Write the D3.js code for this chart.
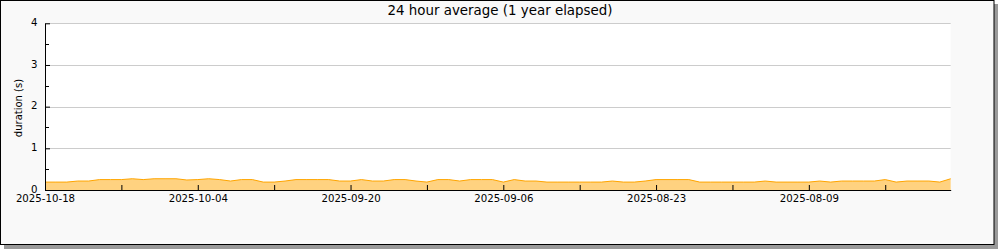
<!DOCTYPE html>
<html>
<head>
    <meta charset="UTF-8">
    <title>24 hour average</title>
    <script src="https://d3js.org/d3.v7.min.js"></script>
    <style>
        body { margin: 0; background: #fff; }
        text { font-family: "DejaVu Sans", sans-serif; fill: #000; }
    </style>
</head>
<body>
<svg width="1000" height="250"></svg>
<script>
    // newest day first, one value per day (seconds)
    var startDay = "2025-10-18";
    var endDay = "2025-07-27";
    var values = [0.19, 0.19, 0.19, 0.215, 0.215, 0.25, 0.25, 0.25, 0.27, 0.25,
        0.27, 0.27, 0.27, 0.24, 0.25, 0.27, 0.25, 0.215, 0.25, 0.25,
        0.19, 0.19, 0.215, 0.25, 0.25, 0.25, 0.25, 0.215, 0.215, 0.25,
        0.215, 0.215, 0.25, 0.25, 0.215, 0.19, 0.25, 0.25, 0.215, 0.25,
        0.25, 0.25, 0.19, 0.25, 0.215, 0.215, 0.19, 0.19, 0.19, 0.19,
        0.19, 0.19, 0.215, 0.19, 0.19, 0.215, 0.25, 0.25, 0.25, 0.25,
        0.19, 0.19, 0.19, 0.19, 0.19, 0.19, 0.215, 0.19, 0.19, 0.19,
        0.19, 0.215, 0.19, 0.215, 0.215, 0.215, 0.215, 0.25, 0.19, 0.215,
        0.215, 0.215, 0.19, 0.27];
    var tickDates = ["2025-10-18", "2025-10-11", "2025-10-04", "2025-09-27", "2025-09-20",
        "2025-09-13", "2025-09-06", "2025-08-30", "2025-08-23", "2025-08-16",
        "2025-08-09", "2025-08-02"];
    var labelDates = ["2025-10-18", "2025-10-04", "2025-09-20", "2025-09-06", "2025-08-23", "2025-08-09"];
    var yTicks = [0, 1, 2, 3, 4];
    var yMinor = [0.5, 1.5, 2.5, 3.5];
    var title = "24 hour average (1 year elapsed)";
    var yLabel = "duration (s)";

    var parse = d3.utcParse("%Y-%m-%d");
    var start = parse(startDay);
    var data = values.map(function (v, i) {
        return {date: d3.utcDay.offset(start, -i), value: v};
    });

    var svg = d3.select("svg");
    var plot = {left: 45, right: 950.7, top: 23.3, bottom: 190};

    // frame with shadow
    svg.append("rect").attr("x", 4).attr("y", 4).attr("width", 994).attr("height", 245)
        .attr("fill", "#9a9a9a");
    svg.append("rect").attr("x", 0.5).attr("y", 0.5).attr("width", 993.5).attr("height", 244)
        .attr("fill", "#f9f9f9").attr("stroke", "#000");

    var x = d3.scaleUtc()
        .domain([start, parse(endDay)])
        .range([plot.left, plot.right]);
    var y = d3.scaleLinear()
        .domain([0, 4])
        .range([plot.bottom, plot.top]);

    svg.append("rect")
        .attr("x", plot.left).attr("y", plot.top)
        .attr("width", plot.right - plot.left).attr("height", plot.bottom - plot.top)
        .attr("fill", "#fff");

    // gridlines
    svg.append("g").selectAll("line")
        .data(yTicks.slice(1))
        .enter().append("line")
        .attr("x1", plot.left).attr("x2", plot.right)
        .attr("y1", function (d) { return Math.round(y(d)) + 0.5; })
        .attr("y2", function (d) { return Math.round(y(d)) + 0.5; })
        .attr("stroke", "#cccccc");

    // area
    var area = d3.area()
        .x(function (d) { return x(d.date); })
        .y0(y(0))
        .y1(function (d) { return y(d.value); });
    var line = d3.line()
        .x(function (d) { return x(d.date); })
        .y(function (d) { return y(d.value); });
    svg.append("path").datum(data).attr("d", area).attr("fill", "#ffd280");
    svg.append("path").datum(data).attr("d", line)
        .attr("fill", "none").attr("stroke", "#ffa500").attr("stroke-width", 1);

    // x axis
    var xAxis = d3.axisBottom(x)
        .tickValues(tickDates.map(parse))
        .tickSizeInner(-5)
        .tickSizeOuter(0)
        .tickPadding(5)
        .tickFormat(function (d) {
            var s = d3.utcFormat("%Y-%m-%d")(d);
            return labelDates.indexOf(s) >= 0 ? s : "";
        });
    var gx = svg.append("g")
        .attr("transform", "translate(0," + plot.bottom + ")")
        .call(xAxis);
    gx.selectAll("text").style("font-size", "10.2px").attr("fill", "#000");

    // y axis
    var yAxis = d3.axisLeft(y)
        .tickValues(yTicks)
        .tickSizeInner(-5)
        .tickSizeOuter(0)
        .tickPadding(7.5)
        .tickFormat(d3.format("d"));
    var gy = svg.append("g")
        .attr("transform", "translate(" + plot.left + ",0)")
        .call(yAxis);
    gy.selectAll("text").style("font-size", "10.2px").attr("fill", "#000")
        .attr("dy", "0.22em");

    svg.append("g").selectAll("line")
        .data(yMinor)
        .enter().append("line")
        .attr("x1", plot.left).attr("x2", plot.left + 4)
        .attr("y1", function (d) { return Math.round(y(d)) + 0.5; })
        .attr("y2", function (d) { return Math.round(y(d)) + 0.5; })
        .attr("stroke", "#000");

    svg.selectAll(".domain").attr("stroke", "#000");

    // title and axis label
    svg.append("text")
        .attr("x", 500).attr("y", 15)
        .attr("text-anchor", "middle")
        .style("font-size", "13.4px")
        .text(title);
    svg.append("text")
        .attr("transform", "translate(22,108) rotate(-90)")
        .attr("text-anchor", "middle")
        .style("font-size", "10px")
        .text(yLabel);
</script>
</body>
</html>
